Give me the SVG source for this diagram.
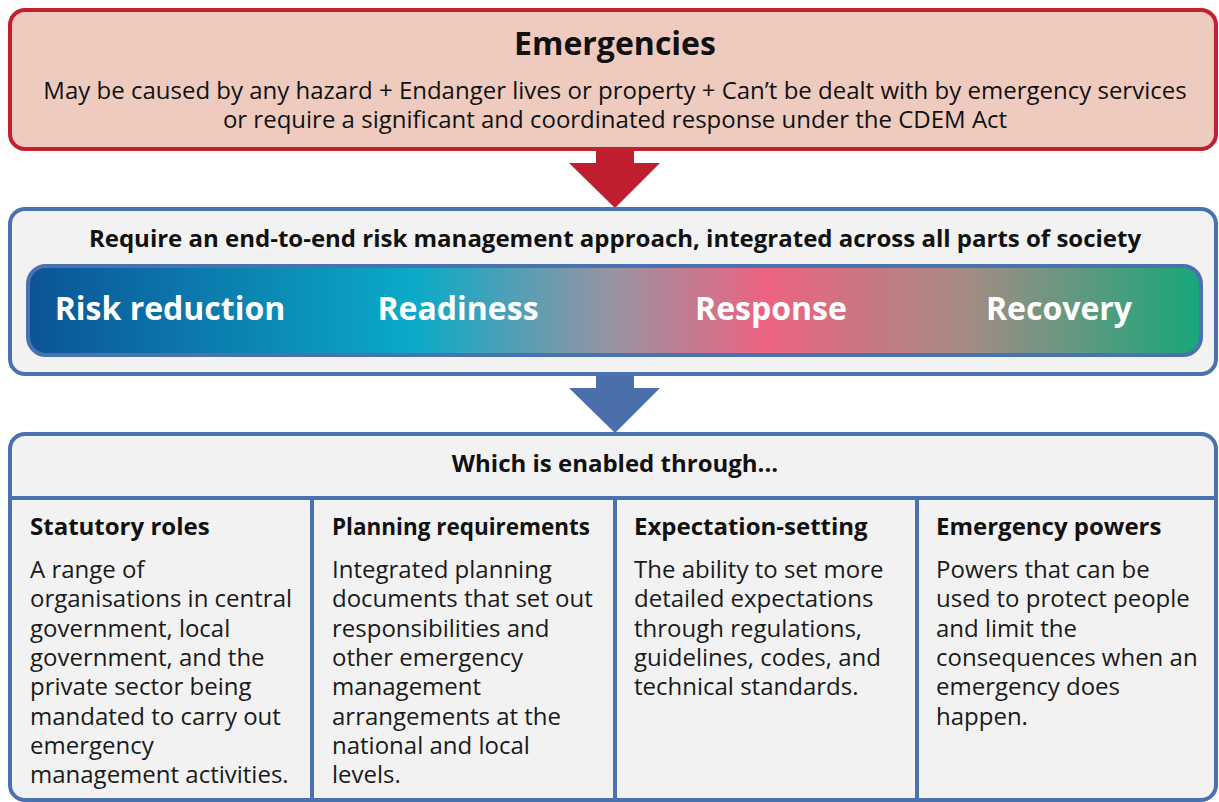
<svg xmlns="http://www.w3.org/2000/svg" width="1219" height="802" viewBox="0 0 1219 802">
<defs>
<linearGradient id="phase" x1="0" y1="0" x2="1" y2="0">
<stop offset="0" stop-color="#0C5396"/>
<stop offset="0.33" stop-color="#0AABC8"/>
<stop offset="0.5" stop-color="#9A93A2"/>
<stop offset="0.63" stop-color="#EC6380"/>
<stop offset="0.8" stop-color="#A48C84"/>
<stop offset="1" stop-color="#16A77A"/>
</linearGradient>
<style>
.t{font-family:"Open Sans","Noto Sans","Liberation Sans",sans-serif;fill:#111}
.b{font-weight:700}
.c{text-anchor:middle}
.w{fill:#fff;font-weight:700;font-size:32px;text-anchor:middle}
.body{font-size:24px;fill:#1a1a1a}
.head{font-size:24px;font-weight:700}
.blue{stroke:#4A72AE;stroke-width:4}
</style>
</defs>
<rect width="1219" height="802" fill="#fff"/>
<g id="emergencies">
<rect x="10" y="10" width="1206" height="139" rx="15" fill="#EFCBBF" stroke="#C0202F" stroke-width="4"/>
<text class="t b c" x="615" y="55" font-size="32">Emergencies</text>
<text class="t c" x="615" y="99" font-size="24">May be caused by any hazard + Endanger lives or property + Can’t be dealt with by emergency services<tspan x="615" dy="29">or require a significant and coordinated response under the CDEM Act</tspan></text>
</g>
<g id="connectors">
<polygon points="596,151 634,151 634,163 660,163 615,208 569,163 596,163" fill="#BE1E2D"/>
<polygon points="596,376 634,376 634,388 660,388 615,433 569,388 596,388" fill="#4A6FAB"/>
</g>
<g id="approach">
<rect x="10" y="209" width="1206" height="165" rx="15" fill="#F2F2F2" class="blue"/>
<text class="t b c" x="615" y="247" font-size="24">Require an end-to-end risk management approach, integrated across all parts of society</text>
</g>
<g id="phases">
<rect x="28" y="266" width="1173" height="89" rx="18" fill="url(#phase)" class="blue"/>
<text class="t w" x="170" y="320">Risk reduction</text>
<text class="t w" x="458" y="320">Readiness</text>
<text class="t w" x="771" y="320">Response</text>
<text class="t w" x="1059" y="320">Recovery</text>
</g>
<g id="enablers">
<rect x="10" y="434" width="1206" height="366" rx="15" fill="#F2F2F2" class="blue"/>
<line x1="10" y1="498" x2="1216" y2="498" class="blue"/>
<line x1="312" y1="498" x2="312" y2="802" class="blue"/>
<line x1="615" y1="498" x2="615" y2="802" class="blue"/>
<line x1="917" y1="498" x2="917" y2="802" class="blue"/>
<text class="t b c" x="615" y="472" font-size="24">Which is enabled through...</text>
</g>
<g id="statutory">
<text class="t head" x="30" y="535">Statutory roles</text>
<text class="t body" x="30" y="578">A range of<tspan x="30" dy="29.3">organisations in central</tspan><tspan x="30" dy="29.3">government, local</tspan><tspan x="30" dy="29.3">government, and the</tspan><tspan x="30" dy="29.3">private sector being</tspan><tspan x="30" dy="29.3">mandated to carry out</tspan><tspan x="30" dy="29.3">emergency</tspan><tspan x="30" dy="29.3">management activities.</tspan></text>
</g>
<g id="planning">
<text class="t head" x="332" y="535" textLength="258" lengthAdjust="spacingAndGlyphs">Planning requirements</text>
<text class="t body" x="332" y="578">Integrated planning<tspan x="332" dy="29.3">documents that set out</tspan><tspan x="332" dy="29.3">responsibilities and</tspan><tspan x="332" dy="29.3">other emergency</tspan><tspan x="332" dy="29.3">management</tspan><tspan x="332" dy="29.3">arrangements at the</tspan><tspan x="332" dy="29.3">national and local</tspan><tspan x="332" dy="29.3">levels.</tspan></text>
</g>
<g id="expectation">
<text class="t head" x="634" y="535">Expectation-setting</text>
<text class="t body" x="634" y="578">The ability to set more<tspan x="634" dy="29.3">detailed expectations</tspan><tspan x="634" dy="29.3">through regulations,</tspan><tspan x="634" dy="29.3">guidelines, codes, and</tspan><tspan x="634" dy="29.3">technical standards.</tspan></text>
</g>
<g id="powers">
<text class="t head" x="936" y="535">Emergency powers</text>
<text class="t body" x="936" y="578">Powers that can be<tspan x="936" dy="29.3">used to protect people</tspan><tspan x="936" dy="29.3">and limit the</tspan><tspan x="936" dy="29.3">consequences when an</tspan><tspan x="936" dy="29.3">emergency does</tspan><tspan x="936" dy="29.3">happen.</tspan></text>
</g>
</svg>
